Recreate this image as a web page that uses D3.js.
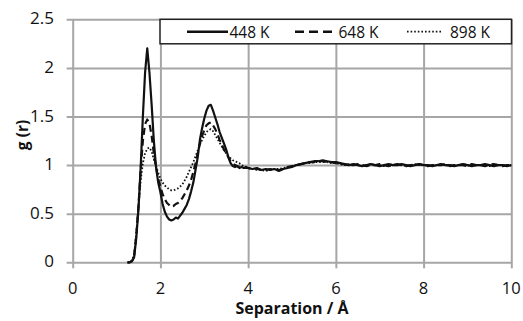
<!DOCTYPE html>
<html><head><meta charset="utf-8">
<script src="https://cdn.jsdelivr.net/npm/d3@7"></script>
<style>
html,body{margin:0;padding:0;background:#fff;}
svg{display:block;}
text{font-family:"Open Sans",sans-serif;fill:#111;}
</style></head>
<body><svg id="c" width="523" height="321"></svg>
<script>
const seriesNames = ["448 K", "648 K", "898 K"];
const xTicks = [0, 2, 4, 6, 8, 10];
const yTicks = [0, 0.5, 1, 1.5, 2, 2.5];
const yTickLabels = ["0", "0.5", "1", "1.5", "2", "2.5"];

const sep = [1.25,1.30,1.35,1.40,1.45,1.50,1.55,1.60,1.65,1.70,1.75,1.80,1.85,1.90,1.95,2.00,2.05,2.10,2.15,2.20,2.25,2.30,2.35,2.40,2.45,2.50,2.55,2.60,2.65,2.70,2.75,2.80,2.85,2.90,2.95,3.00,3.05,3.10,3.15,3.20,3.25,3.30,3.35,3.40,3.45,3.50,3.55,3.60,3.65,3.70,3.75,3.80,3.85,3.90,3.95,4.00,
4.1,4.2,4.3,4.4,4.5,4.6,4.7,4.8,4.9,5.0,5.1,5.2,5.3,5.4,5.5,5.6,5.7,5.8,5.9,6.0,6.1,6.2,6.3,6.4,6.5,6.6,6.7,6.8,6.9,7.0,7.1,7.2,7.3,7.4,7.5,7.6,7.7,7.8,7.9,8.0,8.1,8.2,8.3,8.4,8.5,8.6,8.7,8.8,8.9,9.0,9.1,9.2,9.3,9.4,9.5,9.6,9.7,9.8,9.9,10.0];

const g448 = [0,0,0.01,0.05,0.25,0.55,0.98,1.50,1.95,2.20,1.95,1.62,1.25,0.98,0.82,0.72,0.60,0.52,0.47,0.44,0.43,0.44,0.46,0.45,0.48,0.51,0.55,0.59,0.65,0.73,0.82,0.95,1.08,1.26,1.38,1.48,1.56,1.61,1.62,1.56,1.49,1.42,1.34,1.28,1.22,1.16,1.08,1.02,0.99,0.98,0.99,0.97,0.98,0.97,0.98,0.97,
0.96,0.97,0.95,0.96,0.95,0.96,0.94,0.96,0.97,0.98,1.00,1.01,1.02,1.03,1.04,1.04,1.05,1.04,1.03,1.03,1.02,1.01,1.00,1.01,1.00,0.99,1.00,1.01,1.00,0.99,1.00,1.01,1.00,1.00,1.01,1.00,0.99,1.00,1.01,1.00,1.00,0.99,1.00,1.01,1.00,1.00,0.99,1.00,1.01,1.00,0.99,1.00,1.00,1.01,1.00,0.99,1.00,1.00,0.99,1.00];

const g648 = [0,0,0.01,0.06,0.28,0.58,0.95,1.25,1.42,1.47,1.43,1.30,1.12,0.98,0.86,0.78,0.70,0.65,0.61,0.59,0.57,0.58,0.60,0.61,0.63,0.66,0.70,0.74,0.79,0.85,0.93,1.02,1.12,1.22,1.30,1.36,1.41,1.43,1.44,1.41,1.37,1.32,1.26,1.21,1.16,1.12,1.08,1.04,1.02,1.00,0.99,0.98,0.98,0.97,0.97,0.97,
0.96,0.96,0.95,0.95,0.96,0.95,0.95,0.96,0.98,0.99,1.00,1.01,1.02,1.03,1.03,1.04,1.04,1.03,1.03,1.02,1.01,1.01,1.00,1.00,1.01,1.00,0.99,1.00,1.00,1.01,1.00,0.99,1.00,1.01,1.00,0.99,1.00,1.00,1.01,1.00,0.99,1.00,1.00,1.00,1.01,0.99,1.00,1.00,1.00,0.99,1.01,1.00,1.00,0.99,1.00,1.01,1.00,0.99,1.00,1.00];

const g898 = [0,0,0.02,0.08,0.30,0.58,0.84,1.02,1.12,1.17,1.18,1.14,1.06,0.99,0.92,0.86,0.82,0.79,0.77,0.75,0.74,0.74,0.75,0.76,0.78,0.80,0.84,0.88,0.93,0.98,1.03,1.09,1.15,1.21,1.26,1.30,1.34,1.36,1.37,1.35,1.31,1.27,1.23,1.19,1.15,1.12,1.09,1.07,1.05,1.04,1.03,1.02,1.00,0.99,0.98,0.97,
0.96,0.95,0.95,0.94,0.95,0.96,0.96,0.97,0.98,0.99,1.00,1.01,1.02,1.02,1.03,1.03,1.03,1.03,1.02,1.02,1.01,1.00,1.01,1.00,1.00,0.99,1.00,1.01,1.00,1.00,0.99,1.00,1.01,1.00,1.00,0.99,1.00,1.01,1.00,1.00,0.99,1.00,1.00,1.01,1.00,0.99,1.00,1.00,1.01,1.00,0.99,1.00,1.00,1.00,0.99,1.01,1.00,1.00,0.99,1.00];

const seriesValues = [g448, g648, g898];
const dashes = [null, "7,4", "1.6,2"];
const legDashes = [null, "9,5", "1.6,2"];
const widths = [2.2, 2.2, 1.8];

const svg = d3.select("#c");
const L = 72.7, R = 511.3, T = 19.3, B = 262.3;
const x = d3.scaleLinear().domain([0, 10]).range([L, R]);
const y = d3.scaleLinear().domain([0, 2.5]).range([B, T]);

// gridlines with outer tick marks
const gx = svg.append("g").attr("transform", `translate(0,${B})`)
  .call(d3.axisBottom(x).tickValues(xTicks).tickSize(-(B - T)).tickFormat(""));
gx.selectAll(".tick line").attr("stroke", "#a6a6a6").attr("stroke-width", 2).attr("y2", -(B - T)).attr("y1", 6);
gx.select(".domain").remove();
const gy = svg.append("g").attr("transform", `translate(${L},0)`)
  .call(d3.axisLeft(y).tickValues(yTicks).tickSize(-(R - L)).tickFormat(""));
gy.selectAll(".tick line").attr("stroke", "#a6a6a6").attr("stroke-width", 2).attr("x1", -6).attr("x2", R - L);
gy.select(".domain").remove();

// tick labels
svg.append("g").selectAll("text").data(xTicks).join("text")
  .attr("x", d => x(d)).attr("y", 293.5).attr("text-anchor", "middle")
  .attr("font-size", 16.5).text(d => d);
svg.append("g").selectAll("text").data(yTicks).join("text")
  .attr("x", 54).attr("y", d => y(d) + 5).attr("text-anchor", "end")
  .attr("font-size", 17).text((d, i) => yTickLabels[i]);

// axis titles
svg.append("text").attr("x", 292).attr("y", 314).attr("text-anchor", "middle")
  .attr("font-size", 16).attr("font-weight", "bold").text("Separation / Å");
svg.append("text").attr("transform", "translate(28,135) rotate(-90)").attr("text-anchor", "middle")
  .attr("font-size", 15.5).attr("font-weight", "bold").text("g (r)");

// series
const line = d3.line().x((d, i) => x(sep[i])).y(d => y(d));
seriesValues.forEach((vals, k) => {
  svg.append("path").datum(vals).attr("d", line)
    .attr("fill", "none").attr("stroke", "#111").attr("stroke-width", widths[k])
    .attr("stroke-linejoin", "round")
    .attr("stroke-dasharray", dashes[k]);
});

// legend
const lg = svg.append("g");
lg.append("rect").attr("x", 160).attr("y", 19.3).attr("width", 351.5).attr("height", 24.5)
  .attr("fill", "#fff").attr("stroke", "#222").attr("stroke-width", 1.5);
const legX = [187, 295, 407];
const legLen = [41, 42, 36];
seriesNames.forEach((n, k) => {
  lg.append("line").attr("x1", legX[k]).attr("x2", legX[k] + legLen[k]).attr("y1", 31.7).attr("y2", 31.7)
    .attr("stroke", "#111").attr("stroke-width", k === 2 ? 1.8 : 2.4).attr("stroke-dasharray", legDashes[k]);
  lg.append("text").attr("x", legX[k] + legLen[k] + (k === 2 ? 7 : 1.5)).attr("y", 37.5).attr("font-size", 15.5).text(n);
});
</script></body></html>
